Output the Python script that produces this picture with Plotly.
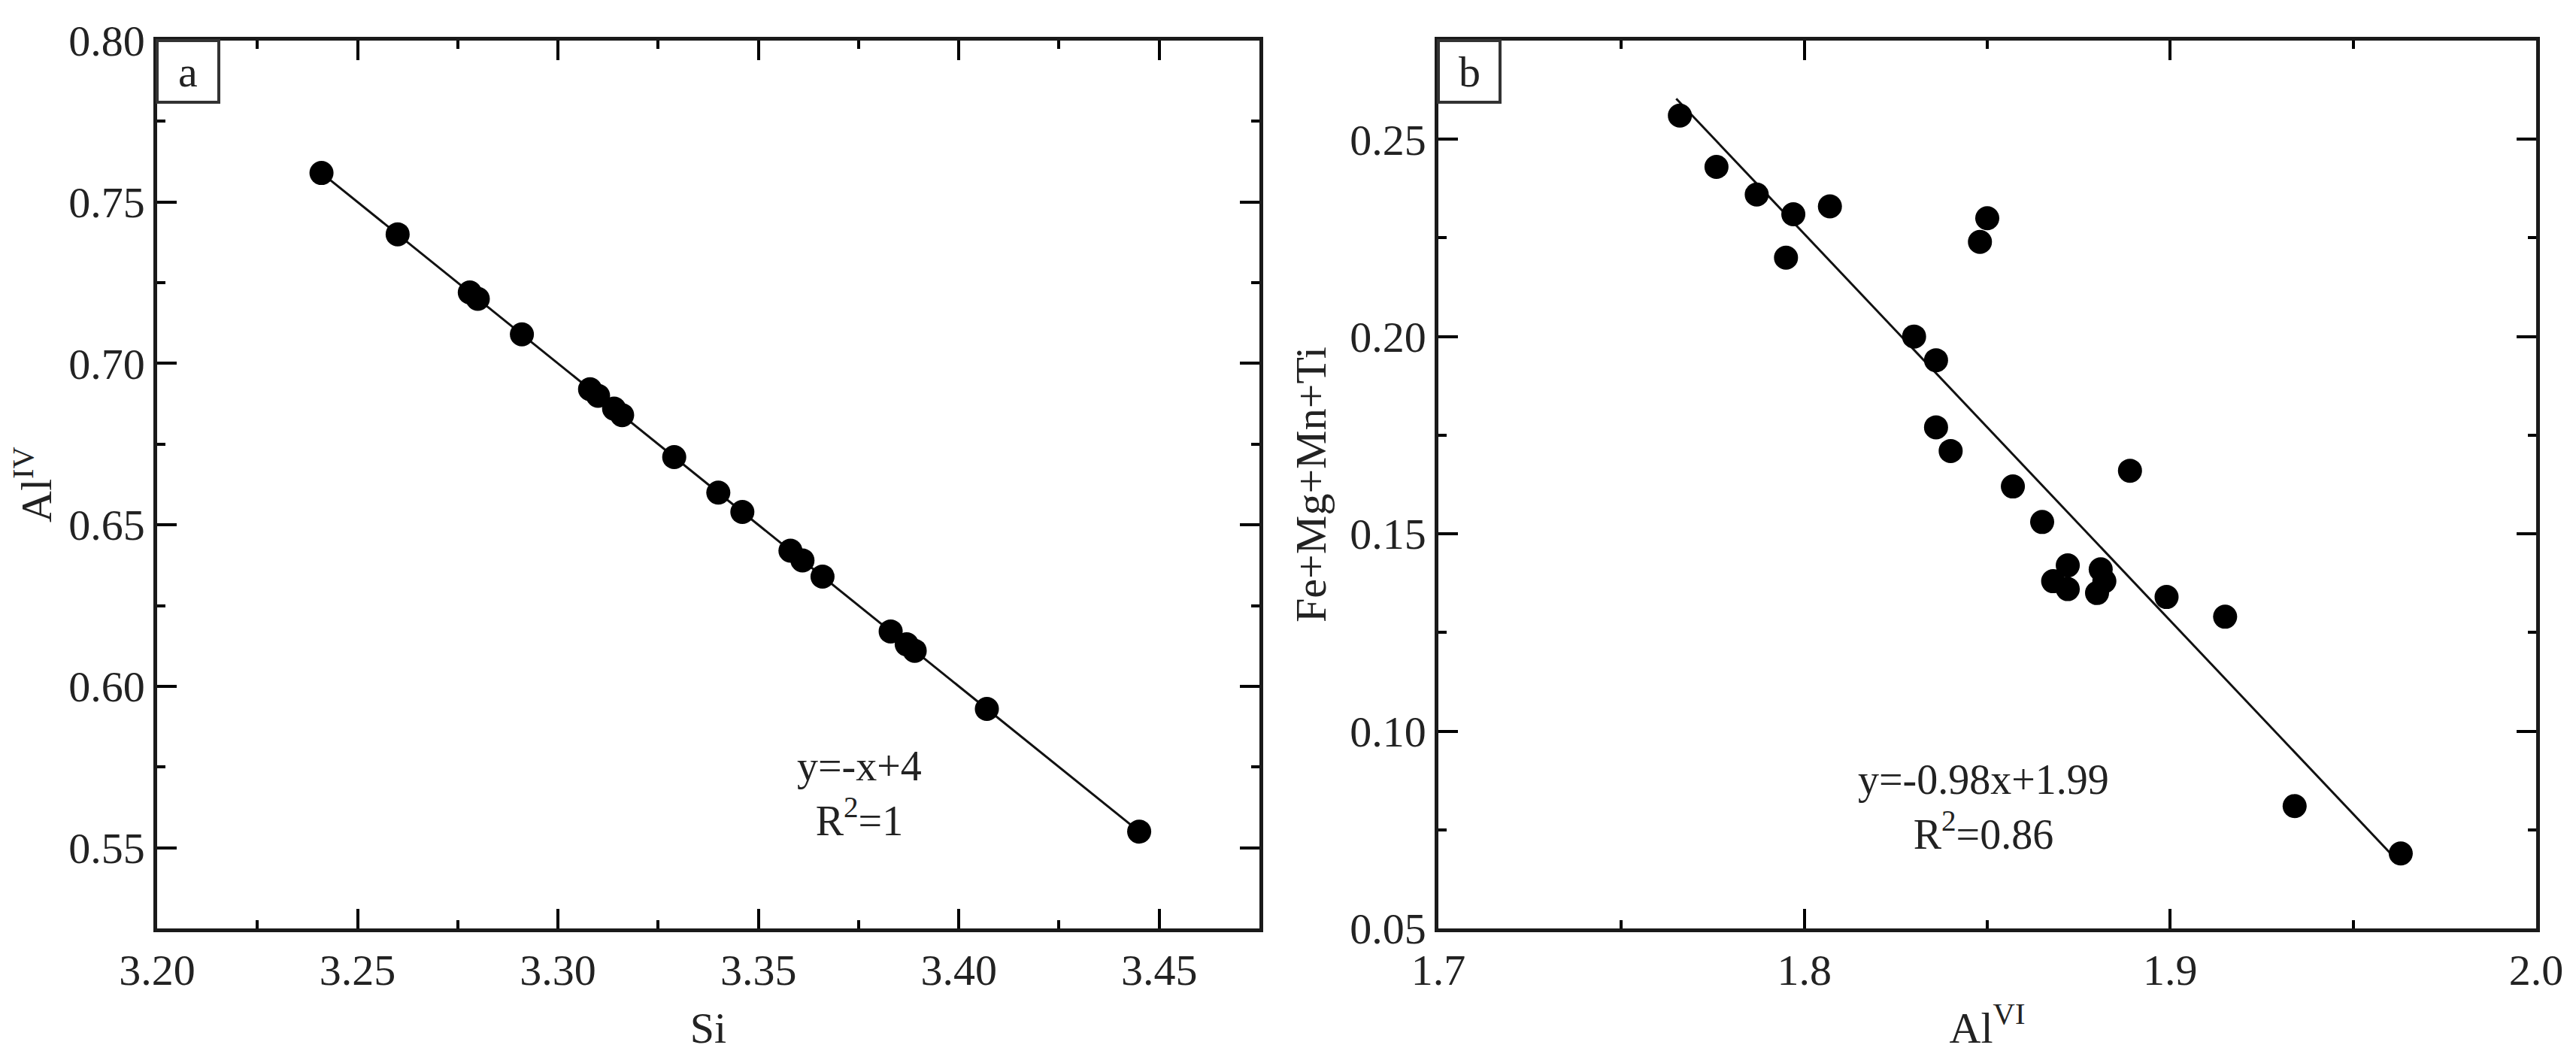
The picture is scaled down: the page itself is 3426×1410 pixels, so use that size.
import plotly.graph_objects as go

# ---------------- data ----------------
# Panel a: Si vs Al(IV)
si = [3.241, 3.260, 3.278, 3.280, 3.291, 3.308, 3.310, 3.314, 3.316, 3.329, 3.340,
      3.346, 3.358, 3.361, 3.366, 3.383, 3.387, 3.389, 3.407, 3.445]
al_iv = [0.759, 0.740, 0.722, 0.720, 0.709, 0.692, 0.690, 0.686, 0.684, 0.671, 0.660,
         0.654, 0.642, 0.639, 0.634, 0.617, 0.613, 0.611, 0.593, 0.555]

# Panel b: Al(VI) vs Fe+Mg+Mn+Ti
al_vi = [1.766, 1.776, 1.787, 1.797, 1.807, 1.795, 1.850, 1.848, 1.830, 1.836, 1.836,
         1.840, 1.857, 1.865, 1.889, 1.872, 1.868, 1.872, 1.881, 1.882, 1.880, 1.899,
         1.915, 1.934, 1.963]
femg = [0.256, 0.243, 0.236, 0.231, 0.233, 0.220, 0.230, 0.224, 0.200, 0.194, 0.177,
        0.171, 0.162, 0.153, 0.166, 0.142, 0.138, 0.136, 0.141, 0.138, 0.135, 0.134,
        0.129, 0.081, 0.069]

# regression lines (equations printed in the chart)
fit_a_x = [3.241, 3.445]
fit_a_slope, fit_a_icpt = -1.0, 4.0
fit_b_x = [1.765, 1.962]
fit_b_slope, fit_b_icpt = -0.98, 1.99

xticks_a = [3.20, 3.25, 3.30, 3.35, 3.40, 3.45]
yticks_a = [0.55, 0.60, 0.65, 0.70, 0.75, 0.80]
xticks_b = [1.7, 1.8, 1.9, 2.0]
yticks_b = [0.05, 0.10, 0.15, 0.20, 0.25]

FONT = "Liberation Serif"
FS = 58
TXT = "#222222"
W, H = 3426, 1410

fig = go.Figure()

fig.add_trace(go.Scatter(x=fit_a_x, y=[fit_a_slope * v + fit_a_icpt for v in fit_a_x],
                         mode="lines", line=dict(color="#111", width=3),
                         xaxis="x", yaxis="y", showlegend=False))
fig.add_trace(go.Scatter(x=si, y=al_iv, mode="markers",
                         marker=dict(color="black", size=32, line=dict(width=0)),
                         xaxis="x", yaxis="y", showlegend=False))
fig.add_trace(go.Scatter(x=fit_b_x, y=[fit_b_slope * v + fit_b_icpt for v in fit_b_x],
                         mode="lines", line=dict(color="#111", width=3),
                         xaxis="x2", yaxis="y2", showlegend=False))
fig.add_trace(go.Scatter(x=al_vi, y=femg, mode="markers",
                         marker=dict(color="black", size=32, line=dict(width=0)),
                         xaxis="x2", yaxis="y2", showlegend=False))

def axis(domain, rng, ticks, fmt, minor_dtick, anchor, title, standoff, lw):
    return dict(
        domain=domain, range=rng, anchor=anchor, automargin=False,
        tickmode="array", tickvals=ticks, ticktext=[fmt.format(t) for t in ticks],
        ticks="inside", ticklen=26, tickwidth=3.5, tickcolor="black",
        minor=dict(ticks="inside", ticklen=11, tickwidth=3.5, dtick=minor_dtick,
                   tickcolor="black", showgrid=False),
        showline=True, linecolor="#1a1a1a", linewidth=lw, mirror="ticks",
        showgrid=False, zeroline=False,
        tickfont=dict(family=FONT, size=FS, color=TXT),
        title=dict(text=title, font=dict(family=FONT, size=FS, color=TXT), standoff=standoff),
    )

xa = [201 / W, 1667 / W]
xb = [1905 / W, 3365 / W]
yd = [1 - 1227 / H, 1 - 46 / H]

fig.update_layout(
    width=W, height=H,
    margin=dict(l=0, r=0, t=0, b=0, autoexpand=False),
    paper_bgcolor="white", plot_bgcolor="white",
    xaxis=axis(xa, [3.20, 3.475], xticks_a, "{:.2f}", 0.025, "y", "Si", 26, 5),
    yaxis=axis(yd, [0.525, 0.80], yticks_a, "{:.2f}", 0.025, "x", "Al<sup>IV</sup>", 14, 4.5),
    xaxis2=axis(xb, [1.7, 2.0], xticks_b, "{:.1f}", 0.05, "y2", "Al<sup>VI</sup>", 26, 5),
    yaxis2=axis(yd, [0.05, 0.275], yticks_b, "{:.2f}", 0.025, "x2", "Fe+Mg+Mn+Ti", 14, 4.5),
)

# panel letter boxes (paper coordinates at the top-left corner of each panel)
box_w, box_h = 82 / W, 82 / H
for xd, letter in [(xa, "a"), (xb, "b")]:
    x0, y1 = xd[0], yd[1]
    fig.add_shape(type="rect", xref="paper", yref="paper",
                  x0=x0, x1=x0 + box_w, y0=y1 - box_h, y1=y1,
                  line=dict(color="#333333", width=4), fillcolor="white")
    fig.add_annotation(xref="paper", yref="paper", x=x0 + box_w / 2, y=y1 - box_h / 2,
                       xanchor="center", yanchor="middle", text=letter,
                       showarrow=False, font=dict(family=FONT, size=FS, color=TXT))

# regression annotations
fig.add_annotation(xref="x", yref="y", x=3.3752, y=0.5668,
                   text="y=-x+4<br>R<sup>2</sup>=1",
                   showarrow=False, align="center",
                   font=dict(family=FONT, size=FS - 2, color=TXT))
fig.add_annotation(xref="x2", yref="y2", x=1.849, y=0.0808,
                   text="y=-0.98x+1.99<br>R<sup>2</sup>=0.86",
                   showarrow=False, align="center",
                   font=dict(family=FONT, size=FS - 2, color=TXT))

fig.write_html("out.html")
